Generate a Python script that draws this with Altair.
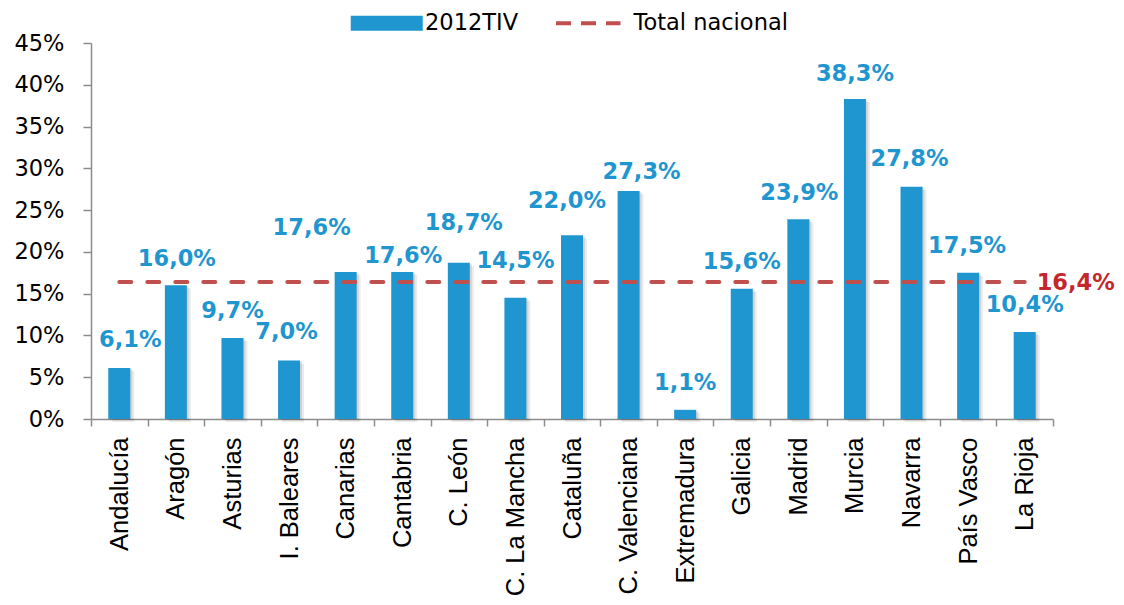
import altair as alt
import pandas as pd

# ---- data ----
regions = ["Andalucía", "Aragón", "Asturias", "I. Baleares", "Canarias", "Cantabria",
           "C. León", "C. La Mancha", "Cataluña", "C. Valenciana", "Extremadura",
           "Galicia", "Madrid", "Murcia", "Navarra", "País Vasco", "La Rioja"]
values = [6.1, 16.0, 9.7, 7.0, 17.6, 17.6, 18.7, 14.5, 22.0, 27.3, 1.1, 15.6, 23.9,
          38.3, 27.8, 17.5, 10.4]
total_nacional = 16.4
series_bar = "2012TIV"
series_line = "Total nacional"

# label nudges (pixels) as placed in the original chart
label_dx = [11, 1, 0, -2.5, -34, 1, 5, 0, -5, 13, 0, 0, 1, 0, -2, -1, 0]
label_dy = [-28, -26, -27, -28.5, -43.5, -16, -40, -37, -34.5, -18.6, -27, -27, -26.6,
            -25, -27.4, -27, -27]


def fmt(v):
    return f"{v:.1f}".replace(".", ",") + "%"


BLUE = "#1F96D0"
RED_LINE = "#C0504D"
RED_TEXT = "#C4282D"
GREY = "#8C8C8C"

bars_df = pd.DataFrame({
    "region": regions,
    "value": values,
    "label": [fmt(v) for v in values],
    "ldx": label_dx,
    "ldy": label_dy,
    "serie": [series_bar] * len(regions),
})
line_df = pd.DataFrame({
    "region": regions,
    "value": [total_nacional] * len(regions),
    "serie_l": [series_line] * len(regions),
})
tot_df = pd.DataFrame({
    "region": [regions[-1]],
    "value": [total_nacional],
    "label": [fmt(total_nacional)],
})

x_enc = alt.X(
    "region:N", sort=regions,
    scale=alt.Scale(paddingInner=0, paddingOuter=0),
    axis=alt.Axis(title=None, labelAngle=270, labelFont="Liberation Sans",
                  labelFontSize=25.5, labelColor="black", labelPadding=11,
                  tickBand="extent", tickSize=7, tickColor=GREY, tickWidth=1.5,
                  domainColor=GREY, domainWidth=1.5, labelLimit=400),
)
y_enc = alt.Y(
    "value:Q", scale=alt.Scale(domain=[0, 45], nice=False),
    axis=alt.Axis(title=None, values=list(range(0, 50, 5)),
                  labelExpr="datum.value + '%'", grid=False,
                  labelFont="DejaVu Sans", labelFontSize=22.5, labelColor="black",
                  labelPadding=19, tickSize=8, tickColor=GREY, tickWidth=1.5,
                  domainColor=GREY, domainWidth=1.5),
)

base = alt.Chart(bars_df)

shadow1 = base.mark_bar(size=22, color="#000000", opacity=0.08, xOffset=4, yOffset=3).encode(
    x=x_enc, y=y_enc)
shadow2 = base.mark_bar(size=22, color="#000000", opacity=0.10, xOffset=2, yOffset=1).encode(
    x=x_enc, y=y_enc)

bars = base.mark_bar(size=22).encode(
    x=x_enc, y=y_enc,
    fill=alt.Fill("serie:N", scale=alt.Scale(domain=[series_bar], range=[BLUE]),
                  legend=alt.Legend(title=None, orient="none", legendX=284.5, legendY=-31,
                                    symbolType="M-4.8,-1H4.8V1H-4.8Z", symbolSize=225,
                                    symbolStrokeWidth=0, symbolOpacity=1,
                                    labelFont="DejaVu Sans", labelFontSize=22.5,
                                    labelColor="black", labelOffset=27, padding=0)),
)

line = alt.Chart(line_df).mark_line(strokeWidth=4, strokeDash=[12, 16], strokeCap="round").encode(
    x=x_enc, y=y_enc,
    stroke=alt.Stroke("serie_l:N", scale=alt.Scale(domain=[series_line], range=[RED_LINE]),
                      legend=alt.Legend(title=None, orient="none", legendX=486, legendY=-31,
                                        symbolType="M-4.3,0H4.3", symbolSize=225,
                                        symbolStrokeWidth=4, symbolDash=[15, 10],
                                        symbolOpacity=1,
                                        labelFont="DejaVu Sans", labelFontSize=22.5,
                                        labelColor="black", labelOffset=34, padding=0)),
)

labels = base.mark_text(font="DejaVu Sans", fontWeight="bold", fontSize=22.5, color=BLUE,
                        baseline="middle", align="center",
                        dx={"expr": "datum.ldx"}, dy={"expr": "datum.ldy"}).encode(
    x=x_enc, y=y_enc, text="label:N",
)

tot_label = alt.Chart(tot_df).mark_text(font="DejaVu Sans", fontWeight="bold", fontSize=22.5,
                                        color=RED_TEXT, baseline="middle", align="center",
                                        dx=51, dy=1).encode(
    x=x_enc, y=y_enc, text="label:N")

chart = alt.layer(shadow1, shadow2, bars, line, labels, tot_label).properties(
    width=962, height=376,
    autosize=alt.AutoSizeParams(type="none"),
    padding={"left": 83, "top": 35, "right": 62, "bottom": 176},
    background="white",
).configure_view(stroke=None)

chart.save("out.html", embed_options={"renderer": "svg", "actions": False})
